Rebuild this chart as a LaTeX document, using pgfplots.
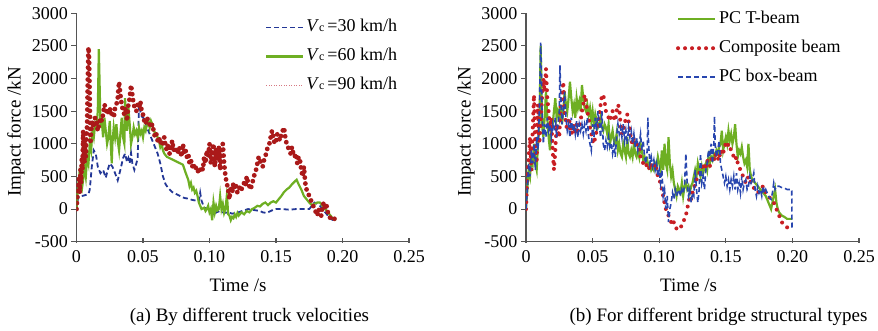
\documentclass[border=0pt]{standalone}
\usepackage{pgfplots}
\pgfplotsset{compat=1.18}
\usepackage{fontspec}
\setmainfont{Liberation Serif}
\definecolor{cblue}{RGB}{35,55,150}
\definecolor{cgreen}{RGB}{110,175,35}
\definecolor{cred}{RGB}{170,25,25}
\definecolor{cpink}{RGB}{215,120,130}
\definecolor{cred2}{RGB}{200,30,35}
\definecolor{cblue2}{RGB}{40,70,175}
\definecolor{axgray}{RGB}{85,85,85}
\newcommand{\tk}{\fontsize{18}{18}\selectfont}
\newcommand{\lb}{\fontsize{19}{19}\selectfont}
\newcommand{\Vc}{\textit{V}{\fontsize{12}{12}\selectfont c}\,}
\pgfplotsset{
  myax/.style={
    scale only axis, height=228.4pt,
    xmin=0, xmax=0.25, ymin=-500, ymax=3000,
    axis x line*=bottom, axis y line*=left,
    axis line style={axgray, line width=1.3pt},
    every tick/.style={axgray, line width=1.1pt},
    tick align=outside, major tick length=5pt,
    x tick style={yshift=4pt},
    xtick={0,0.05,0.1,0.15,0.2,0.25},
    xticklabels={0,0.05,0.10,0.15,0.20,0.25},
    ytick={-500,0,500,1000,1500,2000,2500,3000},
    yticklabels={-500,0,500,1000,1500,2000,2500,3000},
    tick label style={font=\tk},
    xlabel={Time /s}, ylabel={Impact force /kN},
    legend cell align=left,
    legend image code/.code={\draw[##1] (0pt,0pt) -- (37pt,0pt);},
    legend style={draw=none, fill=none, font=\tk, inner sep=0pt, row sep=8pt,
      nodes={inner sep=2pt, text height=13pt, text depth=4pt}},
  }
}
\begin{document}
\begin{tikzpicture}
\useasboundingbox (0,0) rectangle (878pt,331pt);
% ---------------- (a) ----------------
\begin{axis}[myax, width=332.5pt, at={(76.5pt,89.3pt)}, anchor=south west,
  every axis y label/.style={at={(axis description cs:-0.182,0.48)}, rotate=90, anchor=center, font=\lb},
  every axis x label/.style={at={(axis description cs:0.486,-0.192)}, anchor=center, font=\lb},
  legend style={at={(axis description cs:0.567,0.985)}, anchor=north west}]
\addplot[cblue, line width=1.8pt, dash pattern=on 5pt off 3pt] coordinates {
(0,0) (0.001,150) (0.002,200) (0.004,200) (0.006,210) (0.009,230) (0.010,300) (0.0115,650) (0.013,900) (0.0145,850) (0.016,650) (0.018,550) (0.020,600) (0.022,480) (0.0235,600) (0.025,700) (0.027,650) (0.029,550) (0.031,440) (0.033,600) (0.035,780) (0.0365,850) (0.038,720) (0.039,780) (0.040,700) (0.041,860) (0.042,700) (0.0435,600) (0.045,700) (0.046,780) (0.0465,1200) (0.047,1600) (0.048,1500) (0.049,1420) (0.051,1380) (0.053,1250) (0.055,1150) (0.057,1050) (0.059,950) (0.061,850) (0.063,700) (0.065,500) (0.067,380) (0.069,320) (0.072,260) (0.075,230) (0.078,200) (0.081,170) (0.084,160) (0.087,140) (0.090,130) (0.092,120) (0.093,250) (0.094,130) (0.096,20) (0.099,0) (0.101,-30) (0.103,-100) (0.105,-50) (0.108,-30) (0.111,-60) (0.114,-50) (0.117,-70) (0.120,-60) (0.123,-40) (0.126,-20) (0.129,0) (0.132,-10) (0.135,-20) (0.138,-30) (0.140,-50) (0.143,-60) (0.145,-40) (0.148,-10) (0.150,0) (0.155,0) (0.160,-10) (0.165,0) (0.170,0) (0.175,0) (0.177,50) (0.179,100) (0.181,80) (0.183,50) (0.185,0) (0.187,-50) (0.189,-100) (0.191,-150) (0.193,-170)
};
\addlegendentry{\Vc=30 km/h}
\addplot[cgreen, line width=2.2pt] coordinates {
(0,0) (0.001,300) (0.002,500) (0.003,350) (0.004,300) (0.005,450) (0.006,650) (0.007,500) (0.008,800) (0.009,700) (0.010,1000) (0.011,900) (0.012,1200) (0.013,1100) (0.014,1300) (0.015,1250) (0.016,1500) (0.0168,2450) (0.0175,1800) (0.018,1300) (0.019,1350) (0.020,1100) (0.021,1400) (0.022,1200) (0.023,1000) (0.024,1100) (0.025,1350) (0.026,900) (0.0265,700) (0.027,1000) (0.028,1250) (0.029,1100) (0.030,1300) (0.031,1050) (0.032,900) (0.033,1150) (0.034,1400) (0.035,1100) (0.036,1000) (0.0365,1700) (0.037,1400) (0.038,1200) (0.039,1550) (0.040,1300) (0.041,1000) (0.042,1100) (0.043,1250) (0.044,1150) (0.045,1200) (0.046,1100) (0.047,1250) (0.048,1150) (0.049,1200) (0.050,1100) (0.051,1250) (0.052,1200) (0.053,1300) (0.054,1350) (0.055,1250) (0.056,1350) (0.057,1300) (0.058,1200) (0.060,1150) (0.062,1050) (0.063,950) (0.064,1000) (0.065,900) (0.066,850) (0.068,800) (0.070,780) (0.072,760) (0.074,740) (0.076,720) (0.078,700) (0.080,680) (0.082,560) (0.084,450) (0.085,350) (0.086,400) (0.087,300) (0.088,330) (0.089,250) (0.090,280) (0.091,200) (0.092,100) (0.093,50) (0.094,0) (0.096,20) (0.097,-30) (0.098,0) (0.099,50) (0.100,-50) (0.101,0) (0.102,-170) (0.103,100) (0.104,-50) (0.105,50) (0.106,-20) (0.107,0) (0.108,200) (0.109,0) (0.110,80) (0.111,-60) (0.112,0) (0.113,200) (0.1135,100) (0.114,-80) (0.115,-100) (0.116,-170) (0.117,-120) (0.118,-140) (0.119,-80) (0.120,-120) (0.121,-60) (0.122,-100) (0.124,-50) (0.126,-80) (0.128,-30) (0.130,-50) (0.132,0) (0.134,20) (0.136,50) (0.138,40) (0.140,80) (0.142,100) (0.144,60) (0.146,100) (0.148,120) (0.150,100) (0.152,150) (0.154,200) (0.156,260) (0.158,300) (0.160,330) (0.162,380) (0.164,420) (0.1655,450) (0.167,380) (0.169,300) (0.171,200) (0.173,150) (0.175,100) (0.177,60) (0.179,80) (0.181,100) (0.183,100) (0.185,50) (0.187,0) (0.189,-50) (0.191,-100) (0.193,-150) (0.195,-170)
};
\addlegendentry{\Vc=60 km/h}
\addlegendimage{cpink, line width=1.2pt, dash pattern=on 1pt off 1.5pt}
\addlegendentry{\Vc=90 km/h}
\addplot[cred, line width=4.8pt, line cap=round, dash pattern=on 0pt off 6pt, forget plot] coordinates {
(0,0) (0.001,300) (0.002,500) (0.0025,250) (0.003,600) (0.0035,400) (0.004,800) (0.0045,600) (0.005,1200) (0.0055,900) (0.006,700) (0.0065,1000) (0.007,800) (0.0075,1100) (0.008,1300) (0.0085,2000) (0.009,2480) (0.0095,2300) (0.010,1600) (0.0105,1000) (0.011,1200) (0.012,1350) (0.013,1250) (0.014,1400) (0.015,1350) (0.016,1200) (0.017,1300) (0.018,1400) (0.019,1350) (0.020,1450) (0.021,1600) (0.022,1550) (0.023,1450) (0.024,1500) (0.025,1550) (0.026,1450) (0.027,1500) (0.028,1400) (0.029,1550) (0.030,1600) (0.031,1700) (0.032,1950) (0.033,1750) (0.034,1600) (0.035,1500) (0.036,1450) (0.037,1550) (0.038,1350) (0.039,1600) (0.040,1700) (0.041,1900) (0.042,1750) (0.043,1600) (0.044,1550) (0.045,1500) (0.046,1600) (0.047,1550) (0.048,1650) (0.049,1500) (0.050,1450) (0.051,1350) (0.052,1300) (0.053,1400) (0.054,1350) (0.055,1300) (0.056,1250) (0.057,1300) (0.058,1200) (0.059,1100) (0.060,1150) (0.061,1050) (0.062,1100) (0.063,1000) (0.064,1050) (0.065,1000) (0.066,1100) (0.067,950) (0.068,900) (0.069,1000) (0.070,850) (0.071,950) (0.072,1050) (0.073,900) (0.074,950) (0.075,900) (0.076,850) (0.077,950) (0.078,900) (0.079,800) (0.080,1000) (0.081,850) (0.082,900) (0.083,800) (0.084,850) (0.085,700) (0.086,750) (0.087,650) (0.088,700) (0.089,600) (0.090,650) (0.091,600) (0.092,550) (0.093,600) (0.094,650) (0.095,600) (0.096,800) (0.097,700) (0.098,900) (0.099,800) (0.100,1000) (0.101,700) (0.102,850) (0.103,1000) (0.104,650) (0.105,900) (0.106,750) (0.107,950) (0.108,600) (0.109,850) (0.110,1000) (0.111,700) (0.112,500) (0.113,400) (0.114,300) (0.115,150) (0.116,350) (0.117,250) (0.118,400) (0.119,300) (0.120,350) (0.121,250) (0.122,300) (0.123,350) (0.124,300) (0.125,350) (0.126,400) (0.127,350) (0.128,500) (0.129,400) (0.130,350) (0.131,300) (0.132,400) (0.133,450) (0.134,550) (0.135,600) (0.136,700) (0.137,800) (0.138,750) (0.139,700) (0.140,650) (0.141,750) (0.142,800) (0.143,900) (0.144,950) (0.145,1000) (0.146,1100) (0.147,1200) (0.148,1100) (0.149,1000) (0.150,1050) (0.151,1150) (0.152,1100) (0.153,1050) (0.154,1150) (0.155,1200) (0.156,1250) (0.157,1100) (0.158,1000) (0.159,950) (0.160,900) (0.161,850) (0.162,950) (0.163,850) (0.164,800) (0.165,850) (0.166,700) (0.167,800) (0.168,750) (0.169,600) (0.170,500) (0.171,650) (0.172,400) (0.173,300) (0.174,250) (0.175,200) (0.176,150) (0.177,100) (0.178,50) (0.179,0) (0.180,-50) (0.181,-100) (0.182,0) (0.183,-50) (0.184,-100) (0.185,50) (0.186,100) (0.187,0) (0.188,50) (0.189,-50) (0.190,-100) (0.191,-150) (0.193,-130) (0.195,-170)
};
\end{axis}
% ---------------- (b) ----------------
\begin{axis}[myax, width=333pt, at={(526pt,89.3pt)}, anchor=south west,
  every axis y label/.style={at={(axis description cs:-0.18,0.48)}, rotate=90, anchor=center, font=\lb},
  every axis x label/.style={at={(axis description cs:0.488,-0.192)}, anchor=center, font=\lb},
  legend style={at={(axis description cs:0.45,1.021)}, anchor=north west}]
\addplot[cgreen, line width=2.2pt] coordinates {
(0,0) (0.001,300) (0.002,600) (0.003,500) (0.004,800) (0.005,700) (0.006,1000) (0.007,700) (0.008,600) (0.009,1000) (0.010,1300) (0.0105,1800) (0.011,2500) (0.0115,2000) (0.012,1300) (0.013,1100) (0.014,1400) (0.015,1800) (0.016,1400) (0.017,1100) (0.018,900) (0.019,1200) (0.020,1300) (0.021,1500) (0.022,1700) (0.023,1400) (0.024,1500) (0.025,1400) (0.026,1600) (0.027,1300) (0.028,1500) (0.029,1800) (0.030,1600) (0.031,1500) (0.032,1700) (0.033,1950) (0.034,1700) (0.035,1500) (0.036,1600) (0.037,1400) (0.038,1700) (0.039,1550) (0.040,1650) (0.041,1500) (0.042,1900) (0.043,1700) (0.044,1550) (0.045,1500) (0.046,1600) (0.047,1450) (0.048,1550) (0.049,1350) (0.050,1500) (0.051,1300) (0.052,1450) (0.053,1350) (0.054,1250) (0.055,1300) (0.056,1400) (0.057,1250) (0.058,1200) (0.059,1300) (0.060,1250) (0.061,1150) (0.062,1300) (0.063,1000) (0.064,1100) (0.065,1200) (0.066,1050) (0.067,1000) (0.068,1150) (0.069,900) (0.070,1000) (0.071,850) (0.072,800) (0.073,1000) (0.074,900) (0.075,800) (0.076,1100) (0.077,850) (0.078,800) (0.079,900) (0.080,800) (0.081,1000) (0.082,850) (0.083,800) (0.084,900) (0.085,800) (0.086,1000) (0.087,900) (0.088,750) (0.089,800) (0.090,700) (0.091,750) (0.092,650) (0.093,700) (0.094,600) (0.095,650) (0.096,600) (0.097,700) (0.098,650) (0.099,800) (0.100,700) (0.101,600) (0.102,900) (0.103,600) (0.104,1000) (0.105,700) (0.106,600) (0.107,1100) (0.108,700) (0.109,500) (0.110,600) (0.111,400) (0.112,300) (0.113,200) (0.114,350) (0.115,300) (0.116,250) (0.117,400) (0.118,200) (0.119,350) (0.120,400) (0.121,300) (0.122,350) (0.123,250) (0.124,350) (0.125,400) (0.126,500) (0.127,600) (0.128,500) (0.129,700) (0.130,600) (0.131,500) (0.132,650) (0.133,550) (0.134,650) (0.135,700) (0.136,600) (0.137,800) (0.138,700) (0.139,800) (0.140,750) (0.141,850) (0.142,800) (0.143,900) (0.144,850) (0.145,950) (0.146,1000) (0.147,1200) (0.148,900) (0.149,1000) (0.150,1100) (0.151,1000) (0.152,1200) (0.153,1050) (0.154,1150) (0.155,1000) (0.156,1100) (0.157,1300) (0.158,1000) (0.159,800) (0.160,900) (0.161,850) (0.162,950) (0.163,800) (0.164,700) (0.165,750) (0.166,650) (0.167,1000) (0.168,600) (0.169,500) (0.170,450) (0.172,400) (0.174,350) (0.176,300) (0.178,250) (0.180,200) (0.182,100) (0.183,50) (0.184,0) (0.185,100) (0.186,200) (0.187,300) (0.188,100) (0.189,0) (0.190,-50) (0.192,-100) (0.194,-120) (0.196,-150) (0.198,-150) (0.200,-150)
};
\addlegendentry{PC T-beam}
\addplot[cred2, line width=4pt, line cap=round, dash pattern=on 0pt off 7pt] coordinates {
(0,0) (0.001,500) (0.002,800) (0.003,1100) (0.004,600) (0.005,1200) (0.006,1750) (0.007,1000) (0.008,700) (0.009,1600) (0.010,1000) (0.011,1300) (0.012,1700) (0.013,2000) (0.014,1800) (0.015,2150) (0.016,1700) (0.017,1500) (0.018,1200) (0.019,1400) (0.020,900) (0.021,600) (0.022,900) (0.023,1300) (0.024,1200) (0.025,1100) (0.026,1600) (0.027,1750) (0.028,1950) (0.029,1500) (0.030,1300) (0.031,1200) (0.032,1400) (0.033,1300) (0.034,1150) (0.035,1200) (0.036,1300) (0.037,1150) (0.038,1300) (0.039,1200) (0.040,1250) (0.041,1350) (0.042,1500) (0.043,1600) (0.044,1750) (0.045,1650) (0.046,1500) (0.047,1400) (0.048,1250) (0.049,1150) (0.050,1050) (0.051,1000) (0.052,1100) (0.053,1200) (0.054,1300) (0.055,1450) (0.056,1600) (0.057,1750) (0.058,1750) (0.059,1650) (0.060,1500) (0.061,1450) (0.062,1400) (0.063,1350) (0.064,1450) (0.065,1500) (0.066,1400) (0.067,1350) (0.068,1500) (0.069,1600) (0.070,1550) (0.071,1300) (0.072,1150) (0.073,1200) (0.074,1300) (0.075,1400) (0.076,1450) (0.077,1350) (0.078,1200) (0.079,1050) (0.080,1000) (0.081,1100) (0.082,1000) (0.083,950) (0.084,1000) (0.085,900) (0.086,800) (0.087,750) (0.088,700) (0.089,650) (0.090,650) (0.091,700) (0.092,650) (0.093,600) (0.094,650) (0.095,700) (0.096,650) (0.097,700) (0.098,600) (0.099,500) (0.100,450) (0.101,400) (0.102,300) (0.103,200) (0.104,100) (0.105,0) (0.106,-50) (0.107,-100) (0.108,-150) (0.109,-200) (0.110,-250) (0.111,-200) (0.112,-250) (0.113,-300) (0.114,-280) (0.115,-300) (0.116,-280) (0.117,-250) (0.118,-200) (0.119,-150) (0.120,-100) (0.121,0) (0.122,100) (0.123,200) (0.124,150) (0.125,250) (0.126,300) (0.127,400) (0.128,450) (0.129,500) (0.130,550) (0.131,600) (0.132,650) (0.133,600) (0.134,700) (0.135,650) (0.136,750) (0.137,700) (0.138,650) (0.139,750) (0.140,800) (0.141,750) (0.142,850) (0.143,800) (0.144,750) (0.145,850) (0.146,800) (0.147,900) (0.148,850) (0.149,950) (0.150,1000) (0.151,950) (0.152,1000) (0.153,950) (0.154,900) (0.155,850) (0.156,800) (0.157,750) (0.158,800) (0.159,700) (0.160,650) (0.161,600) (0.162,550) (0.163,500) (0.164,450) (0.165,400) (0.166,450) (0.167,500) (0.168,450) (0.169,400) (0.170,350) (0.172,300) (0.174,250) (0.176,300) (0.178,350) (0.180,250) (0.182,200) (0.184,150) (0.186,100) (0.188,0) (0.190,-100) (0.192,-200) (0.194,-250) (0.196,-280) (0.198,-300) (0.200,-320)
};
\addlegendentry{Composite beam}
\addplot[cblue2, line width=1.6pt, dash pattern=on 5pt off 3pt] coordinates {
(0,0) (0.001,300) (0.002,700) (0.003,500) (0.004,900) (0.005,700) (0.006,1000) (0.007,600) (0.008,1100) (0.009,900) (0.010,1500) (0.0105,2000) (0.011,2550) (0.0115,2200) (0.012,1500) (0.013,1000) (0.014,1300) (0.015,1100) (0.016,1400) (0.017,1200) (0.018,1300) (0.019,1100) (0.020,1300) (0.021,1200) (0.022,1400) (0.023,1100) (0.024,1300) (0.025,1500) (0.0255,2200) (0.026,1800) (0.027,1300) (0.028,1500) (0.029,1800) (0.030,1400) (0.031,1200) (0.032,1300) (0.033,1100) (0.034,1400) (0.035,1200) (0.036,1300) (0.037,1150) (0.038,1350) (0.039,1100) (0.040,1300) (0.041,1200) (0.042,1300) (0.043,1150) (0.044,1300) (0.045,1200) (0.046,1400) (0.047,1100) (0.048,1000) (0.049,900) (0.050,1300) (0.051,1100) (0.052,1400) (0.053,1200) (0.054,1500) (0.055,1300) (0.056,1100) (0.057,1500) (0.058,1000) (0.059,900) (0.060,1050) (0.061,950) (0.062,1100) (0.063,950) (0.064,1000) (0.065,850) (0.066,1000) (0.067,800) (0.068,1100) (0.069,1300) (0.070,1150) (0.071,1250) (0.072,1100) (0.073,1300) (0.074,1050) (0.075,1200) (0.076,1000) (0.077,1250) (0.078,1100) (0.079,1200) (0.080,1000) (0.081,1150) (0.082,950) (0.083,1100) (0.084,900) (0.085,1000) (0.086,1150) (0.087,900) (0.088,1050) (0.089,800) (0.090,700) (0.091,900) (0.0915,1400) (0.092,1000) (0.093,700) (0.094,800) (0.095,650) (0.096,750) (0.097,600) (0.098,700) (0.099,500) (0.100,600) (0.101,400) (0.102,600) (0.103,200) (0.104,300) (0.105,0) (0.106,200) (0.107,-200) (0.108,0) (0.109,100) (0.110,250) (0.111,150) (0.112,300) (0.113,200) (0.114,250) (0.115,300) (0.116,200) (0.117,300) (0.118,250) (0.119,350) (0.120,850) (0.121,400) (0.122,200) (0.123,300) (0.124,100) (0.125,250) (0.126,200) (0.127,600) (0.128,300) (0.129,100) (0.130,300) (0.131,850) (0.132,400) (0.133,500) (0.134,300) (0.135,600) (0.136,700) (0.137,900) (0.138,800) (0.139,1000) (0.140,700) (0.141,1000) (0.1415,1420) (0.142,1000) (0.143,800) (0.144,900) (0.145,1050) (0.146,700) (0.147,600) (0.148,500) (0.149,400) (0.150,500) (0.151,350) (0.152,450) (0.153,300) (0.154,450) (0.155,350) (0.156,500) (0.157,300) (0.158,550) (0.159,300) (0.160,400) (0.161,250) (0.162,500) (0.163,300) (0.164,400) (0.165,450) (0.166,300) (0.167,350) (0.168,500) (0.169,400) (0.170,450) (0.171,550) (0.172,300) (0.173,200) (0.174,350) (0.175,250) (0.176,300) (0.177,200) (0.178,350) (0.179,250) (0.180,300) (0.182,200) (0.184,150) (0.185,250) (0.186,400) (0.187,300) (0.188,350) (0.190,350) (0.192,330) (0.194,320) (0.196,300) (0.198,300) (0.1995,300) (0.1997,-300)
};
\addlegendentry{PC box-beam}
\end{axis}
\node[anchor=base, font=\lb] at (249.5pt,9.3pt) {(a) By different truck velocities};
\node[anchor=base, font=\lb] at (718.5pt,9.3pt) {(b) For different bridge structural types};
\end{tikzpicture}
\end{document}
